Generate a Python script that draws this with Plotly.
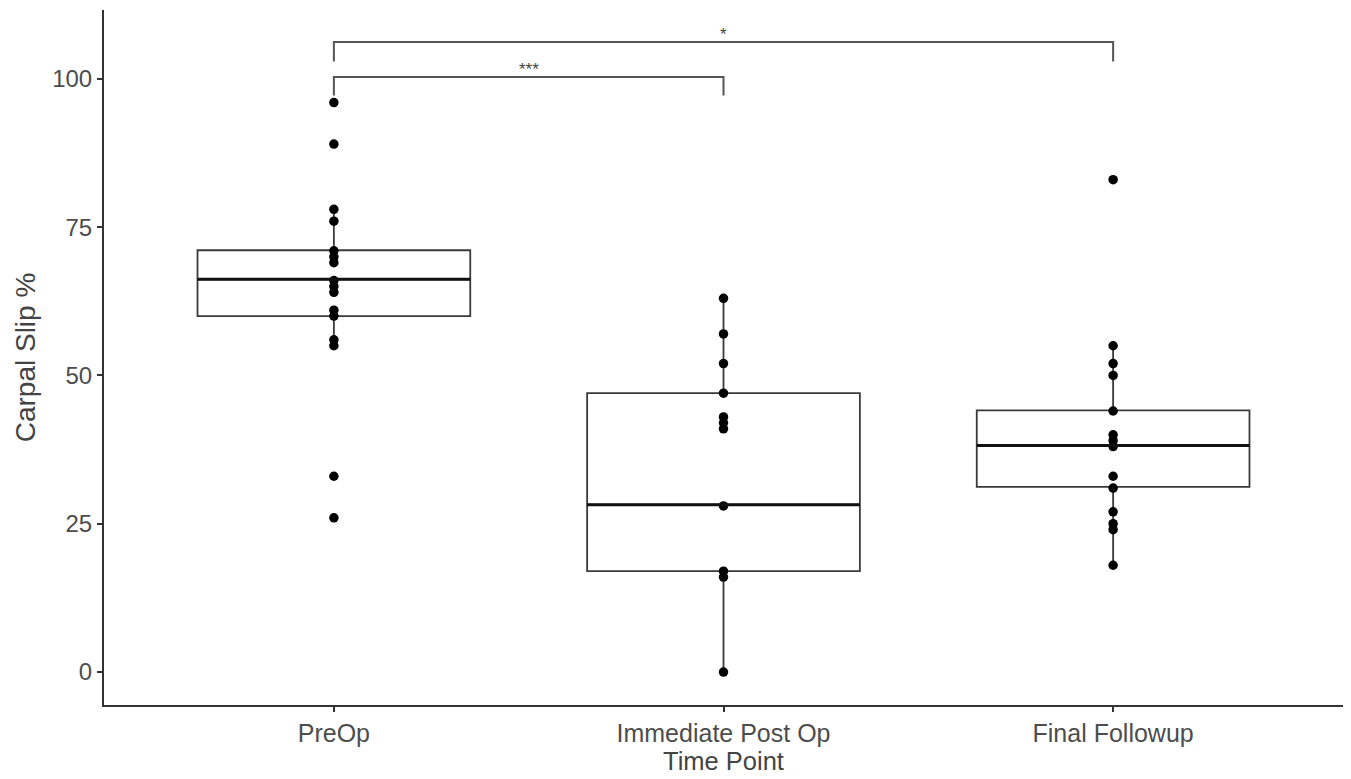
import plotly.graph_objects as go

# ---- data ----
categories = ["PreOp", "Immediate Post Op", "Final Followup"]
preop_pts = [96, 89, 78, 76, 71, 70, 69, 66, 65, 64, 61, 60, 56, 55, 33, 26]
immediate_pts = [63, 57, 52, 47, 43, 42, 41, 28, 17, 16, 0]
final_pts = [83, 55, 52, 50, 44, 40, 39, 38, 33, 31, 27, 25, 24, 18]

q1 = [60, 17, 31.2]
medians = [66.2, 28.2, 38.2]
q3 = [71.1, 47, 44.1]
lower_whisker = [55.3, 0, 18]
upper_whisker = [78, 63, 55]

y_ticks = [0, 25, 50, 75, 100]

bracket_pairs = [(1, 2), (1, 3)]
bracket_y = [100.3, 106.2]
bracket_tip = [97.2, 102.9]
bracket_labels = ["***", "*"]

# ---- figure ----
fig = go.Figure()
box_w = 0.7
line_col = "#3a3a3a"
points = [preop_pts, immediate_pts, final_pts]

for i, cat in enumerate(categories):
    xpos = i + 1
    fig.add_trace(go.Box(
        x=[xpos], q1=[q1[i]], median=[medians[i]], q3=[q3[i]],
        lowerfence=[lower_whisker[i]], upperfence=[upper_whisker[i]],
        width=box_w, whiskerwidth=0,
        fillcolor="white", line=dict(color=line_col, width=1.8),
        boxpoints=False, showlegend=False, hoverinfo="skip",
    ))
    # thicker median line
    fig.add_shape(type="line", xref="x", yref="y",
                  x0=xpos - box_w / 2, x1=xpos + box_w / 2,
                  y0=medians[i], y1=medians[i],
                  line=dict(color="#111111", width=3))
    fig.add_trace(go.Scatter(
        x=[xpos] * len(points[i]), y=points[i], mode="markers",
        marker=dict(color="black", size=9.5),
        showlegend=False, hoverinfo="y",
    ))

for (a, b), yb, yt, lab in zip(bracket_pairs, bracket_y, bracket_tip, bracket_labels):
    fig.add_shape(type="path", xref="x", yref="y",
                  path=f"M {a},{yt} L {a},{yb} L {b},{yb} L {b},{yt}",
                  line=dict(color="#555555", width=2))
    fig.add_annotation(x=(a + b) / 2, y=yb, text=lab, showarrow=False,
                       yanchor="bottom", yshift=-4,
                       font=dict(size=17, color="#444444"))

font_family = "Liberation Sans, Arial, sans-serif"
fig.update_layout(
    width=1351, height=779,
    margin=dict(l=104, r=8, t=10, b=74),
    plot_bgcolor="white", paper_bgcolor="white",
    font=dict(family=font_family, color="#444444"),
    xaxis=dict(
        range=[0.41, 3.59], tickmode="array", tickvals=[1, 2, 3],
        ticktext=categories, showgrid=False, zeroline=False,
        showline=True, linecolor="#333333", linewidth=2,
        ticks="outside", ticklen=5, tickwidth=1.5, tickcolor="#333333",
        tickfont=dict(size=25, color="#4d4d4d"),
        title=dict(text="Time Point", font=dict(size=25.5, color="#444444"), standoff=0),
    ),
    yaxis=dict(
        range=[-5.56, 111.6], tickmode="array", tickvals=y_ticks,
        showgrid=False, zeroline=False,
        showline=True, linecolor="#333333", linewidth=2,
        ticks="outside", ticklen=5, tickwidth=1.5, tickcolor="#333333",
        tickfont=dict(size=24, color="#4d4d4d"),
        title=dict(text="Carpal Slip %", font=dict(size=28, color="#444444"), standoff=8),
    ),
)

fig.write_html("out.html")
